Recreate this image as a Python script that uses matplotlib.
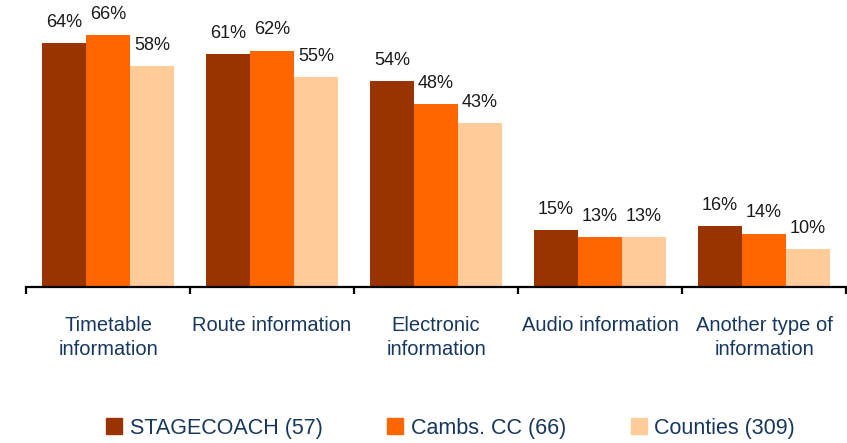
import numpy as np
import matplotlib.pyplot as plt
from matplotlib.patches import Patch

plt.rcParams['font.family'] = ['Liberation Sans', 'DejaVu Sans']

# Data
categories = ['Timetable\ninformation', 'Route information', 'Electronic\ninformation',
              'Audio information', 'Another type of\ninformation']
series_names = ['STAGECOACH (57)', 'Cambs. CC (66)', 'Counties (309)']
stagecoach = [64, 61, 54, 15, 16]
cambs = [66, 62, 48, 13, 14]
counties = [58, 55, 43, 13, 10]
colors = ['#993300', '#FF6600', '#FFCC99']

fig = plt.figure(figsize=(8.47, 4.43), dpi=100)
ax = fig.add_axes([26 / 847, 156 / 443, 820 / 847, (287 - 20) / 443])

x = np.arange(len(categories))
width = 0.268
navy = '#17375E'

for i, (vals, col) in enumerate(zip([stagecoach, cambs, counties], colors)):
    pos = x + (i - 1) * width
    ax.bar(pos, vals, width=width, color=col, label=series_names[i])
    for p, v in zip(pos, vals):
        ax.text(p, v + 3.2, f'{v}%', ha='center', va='bottom', fontsize=13, color='#1a1a1a')

ax.set_xlim(-0.5, len(categories) - 0.5)
ax.set_ylim(0, 70)
for s in ['top', 'right', 'left']:
    ax.spines[s].set_visible(False)
ax.spines['bottom'].set_linewidth(1.6)
ax.set_yticks([])

# tick marks at category boundaries
ax.set_xticks(np.arange(-0.5, len(categories) + 0.5, 1))
ax.set_xticklabels([])
ax.tick_params(axis='x', length=5, width=1.6, direction='out')

for xi, lab in zip(x, categories):
    ax.text(xi, -7.6, lab, ha='center', va='top', fontsize=14.5, color=navy,
            linespacing=1.35)

handles = [Patch(color=c) for c in colors]
leg = fig.legend(handles, series_names, loc='center', bbox_to_anchor=(0.532, 0.033), ncol=3,
                 frameon=False, handlelength=0.75, handleheight=0.75,
                 handletextpad=0.35, columnspacing=3.0, labelcolor=navy,
                 prop={'family': 'Liberation Sans', 'size': 15.5})

fig.savefig('out.png', dpi=100)
